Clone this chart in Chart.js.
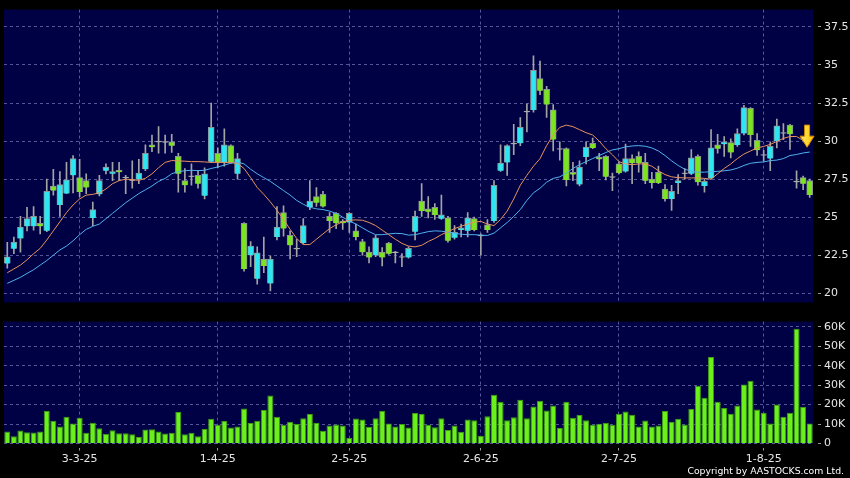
<!DOCTYPE html>
<html>
<head>
<meta charset="utf-8">
<script src="https://cdn.jsdelivr.net/npm/chart.js@4/dist/chart.umd.min.js"></script>
<style>
  html, body { margin: 0; padding: 0; background: #000; }
  #wrap { position: relative; width: 850px; height: 478px; background: #000; overflow: hidden; }
  #priceCanvas { position: absolute; left: 0; top: 0; }
  #volCanvas { position: absolute; left: 0; top: 312px; }
  #copy { position: absolute; right: 6px; top: 465px; color: #fff; font: 9.3px "DejaVu Sans", sans-serif; line-height: 12px; }
</style>
</head>
<body>
<div id="wrap">
  <canvas id="priceCanvas" width="850" height="312"></canvas>
  <canvas id="volCanvas" width="850" height="166"></canvas>
  <div id="copy">Copyright by AASTOCKS.com Ltd.</div>
</div>
<script>
// ----------------------------------------------------------------------
// data, one entry per trading day
// ----------------------------------------------------------------------
const open = [21.95,22.93,23.6,24.4,24.4,24.6,24.1,27.05,25.8,26.55,27.75,27.6,27.4,24.95,26.5,28.05,27.85,28.1,27.57,27.4,
  27.5,28.15,29.75,29.93,29.9,29.95,29.0,27.4,27.65,27.75,26.4,28.65,29.2,28.6,29.7,27.85,24.6,22.5,20.95,22.25,
  20.65,23.7,25.3,23.8,22.9,23.3,25.65,26.35,26.5,25.05,25.25,24.75,24.65,24.1,23.4,22.7,22.5,22.7,23.3,22.65,
  22.35,22.35,24.05,26.05,25.55,25.65,24.9,24.95,23.65,24.15,24.1,24.9,23.75,24.5,24.75,28.05,28.6,29.8,29.85,31.9,
  32.05,34.1,33.4,32.05,29.45,29.5,27.95,27.15,28.95,29.85,28.95,29.0,27.6,28.5,28.0,28.85,29.0,28.6,27.5,27.95,
  26.85,26.2,27.25,27.85,27.85,29.0,27.05,27.55,29.75,29.8,29.9,29.75,30.5,32.15,30.05,29.05,28.85,30.0,30.5,31.05,
  27.3,27.6,27.4];
const high = [23.35,23.7,25.05,25.65,25.7,25.05,27.5,28.15,28.0,28.6,29.05,28.8,27.85,26.0,27.75,28.5,28.6,28.6,27.75,28.7,
  28.8,29.75,30.4,30.95,30.4,30.45,29.2,28.2,28.5,28.05,28.25,32.5,29.55,30.8,29.75,29.2,24.65,23.4,23.05,23.7,
  22.45,25.7,25.75,24.1,23.55,24.9,27.4,26.95,26.7,25.3,25.3,24.85,25.3,24.55,23.55,23.05,23.8,23.0,23.35,22.75,
  22.6,23.05,25.4,27.2,26.35,25.9,26.45,25.05,24.45,24.55,25.3,25.0,23.9,24.85,27.4,29.75,29.75,31.1,31.55,32.45,
  35.6,35.25,33.6,32.4,29.95,29.55,28.6,28.7,29.95,30.2,29.2,29.05,27.9,28.6,29.8,29.1,29.3,29.2,27.95,28.35,
  27.15,27.1,27.8,28.2,29.45,29.1,27.5,30.75,30.45,30.3,30.15,30.8,32.35,32.2,30.5,29.4,29.95,31.45,31.15,31.1,
  28.05,27.7,27.5];
const low = [21.65,22.6,22.7,24.1,24.15,23.9,24.05,26.45,25.05,26.55,26.6,26.35,26.55,24.45,26.4,27.85,27.4,27.4,26.55,26.9,
  27.2,28.05,29.3,29.2,29.2,29.25,26.65,26.65,27.1,26.9,26.2,28.6,28.25,28.35,28.55,27.5,21.45,21.75,20.6,21.35,
  20.15,23.5,23.75,22.25,22.4,23.25,25.5,25.7,25.65,24.0,24.25,24.2,24.0,23.5,22.5,22.0,22.4,21.8,22.55,22.0,
  21.75,22.3,23.5,25.05,24.95,24.85,24.85,23.35,23.55,23.7,23.7,24.1,22.5,24.0,24.65,28.0,27.75,29.1,29.7,30.6,
  31.9,33.05,31.55,29.35,28.75,27.05,27.4,27.05,28.5,29.5,28.05,27.45,26.75,27.85,27.95,27.2,27.95,27.2,26.9,27.2,
  26.05,25.45,26.55,27.5,27.8,27.1,26.65,27.5,29.2,29.0,28.9,29.65,30.4,29.65,29.05,28.7,28.05,29.55,30.1,29.45,
  26.9,26.8,26.3];
const close = [22.4,23.36,24.35,24.9,25.05,24.4,26.7,26.75,27.15,27.45,28.85,26.65,26.95,25.5,27.4,28.3,28.0,27.95,27.57,27.4,
  27.9,29.2,29.6,29.93,29.9,29.7,27.85,27.1,27.65,27.2,27.85,30.9,28.6,29.75,28.6,28.85,21.6,23.1,22.65,21.8,
  22.25,24.35,24.25,23.15,22.9,24.45,26.05,25.95,25.7,24.75,24.6,24.6,25.25,23.7,22.7,22.35,23.65,22.35,22.6,22.65,
  22.35,22.95,25.05,25.4,25.35,25.15,25.15,23.45,24.0,24.3,24.95,24.15,23.75,24.15,27.1,28.55,29.7,29.8,30.9,31.9,
  34.65,33.3,32.4,30.1,29.45,27.45,27.8,28.3,29.6,29.55,28.8,27.65,27.6,27.9,28.85,28.55,28.55,27.4,27.25,27.25,
  26.2,26.7,27.4,27.85,28.9,27.3,27.35,29.55,29.5,29.95,29.25,30.5,32.2,30.4,29.4,29.05,29.65,31.0,30.5,30.45,
  27.3,27.2,26.45];

// moving averages as drawn (orange = short, blue = long)
const maShort = [21.35,21.6,21.85,22.2,22.6,22.95,23.5,24.1,24.7,25.3,25.8,26.2,26.45,26.5,26.6,26.85,27.2,27.4,27.5,27.47,
  27.42,27.55,27.85,28.25,28.6,28.72,28.7,28.68,28.65,28.65,28.63,28.6,28.6,28.6,28.58,28.54,28.2,27.6,26.95,26.5,
  26.0,25.45,24.85,24.2,23.6,23.2,23.2,23.55,23.9,24.25,24.5,24.7,24.8,24.82,24.8,24.65,24.45,24.15,23.85,23.55,
  23.28,23.1,23.05,23.15,23.4,23.6,23.85,24.05,24.25,24.4,24.55,24.68,24.72,24.55,24.45,24.85,25.4,26.2,27.1,27.75,
  28.35,28.85,29.7,30.4,30.9,31.05,30.95,30.75,30.55,30.4,30.0,29.5,29.1,28.65,28.5,28.45,28.5,28.5,28.35,28.05,
  27.8,27.65,27.6,27.58,27.58,27.58,27.55,27.5,27.85,28.2,28.5,28.85,29.15,29.35,29.55,29.65,29.78,29.97,30.18,30.3,
  30.3,30.05,29.8];
const maLong = [20.65,20.85,21.05,21.3,21.55,21.85,22.15,22.5,22.85,23.1,23.45,23.85,24.2,24.4,24.55,24.9,25.25,25.6,25.95,26.25,
  26.55,26.8,27.05,27.35,27.55,27.85,28.0,28.05,28.08,28.06,28.08,28.2,28.3,28.42,28.55,28.62,28.5,28.15,27.85,27.6,
  27.35,27.05,26.75,26.45,26.1,25.85,25.65,25.55,25.5,25.4,25.25,25.0,24.75,24.55,24.3,24.05,23.85,23.85,23.9,23.94,
  23.92,23.82,23.85,23.95,24.05,24.1,24.08,24.02,23.95,23.88,23.85,23.85,23.82,23.8,23.95,24.3,24.65,25.05,25.5,26.1,
  26.6,26.9,27.3,27.55,27.65,27.9,28.2,28.45,28.65,28.85,29.05,29.25,29.42,29.5,29.62,29.68,29.7,29.66,29.55,29.35,
  29.05,28.7,28.4,28.15,28.02,27.95,27.96,27.99,28.01,28.05,28.1,28.22,28.4,28.54,28.6,28.63,28.72,28.75,28.85,29.05,
  29.12,29.22,29.28];

// volume in shares
const volume = [6200,3700,6700,5800,5700,6200,16700,11700,8800,13800,10300,13200,5500,10700,7800,5000,6800,5300,5300,4700,
  3300,7200,7300,6200,5200,5500,16200,4800,5500,3700,7500,12700,9700,11500,8200,8700,18000,10500,11700,17200,
  24700,13700,9700,11200,10200,13000,15200,10500,6500,9200,9800,9300,2800,12800,12300,8500,13000,16700,10300,8700,
  10000,8200,15700,15200,9700,8300,13000,7000,9200,6000,12300,12000,3800,14000,25000,21500,12000,13500,22500,13000,
  19000,22000,17000,19500,8000,21500,13200,14700,12000,9700,10200,10500,9700,15300,16500,14800,8800,11800,8700,9200,
  16700,11200,12700,9800,17700,29700,23500,44500,21500,18200,15300,19500,30300,32300,17500,15800,10300,20000,13800,15800,
  59000,18700,10300];

const tickIdx = [11, 32, 52, 72, 93, 115];
const tickText = ['3-3-25', '1-4-25', '2-5-25', '2-6-25', '2-7-25', '1-8-25'];
const priceTicks = [20, 22.5, 25, 27.5, 30, 32.5, 35, 37.5];
const volTicks = [0, 10000, 20000, 30000, 40000, 50000, 60000];

// signal arrow: bar position, top and tip price
const ARROW_AT = 121.6, ARROW_TOP = 31.05, ARROW_TIP = 29.6;

// ----------------------------------------------------------------------
// style
// ----------------------------------------------------------------------
const PLOT_BG = '#000044';
const GRID = '#55559a';
const TEXT = '#e6e6e6';
const UP = '#2ee6f2', DOWN = '#7be41e', DOJI = '#b4b4b4', WICK = '#a4a4a4';
const FONT = { family: 'DejaVu Sans', size: 11 };

const days = open.map((_, i) => String(i));

const plotBg = {
  id: 'plotBg',
  beforeDraw(chart) {
    const { ctx, chartArea: a } = chart;
    ctx.save();
    ctx.fillStyle = PLOT_BG;
    ctx.fillRect(a.left, a.top, a.right - a.left, a.bottom - a.top);
    ctx.restore();
  }
};

const arrowMark = {
  id: 'arrowMark',
  afterDatasetsDraw(chart) {
    const { ctx, scales: { x, y } } = chart;
    const cx = x.getPixelForValue(ARROW_AT);
    const top = y.getPixelForValue(ARROW_TOP);
    const tip = y.getPixelForValue(ARROW_TIP);
    const headH = (tip - top) * 0.5, shaftW = 5, headW = 14;
    ctx.save();
    ctx.beginPath();
    ctx.moveTo(cx - shaftW / 2, top);
    ctx.lineTo(cx + shaftW / 2, top);
    ctx.lineTo(cx + shaftW / 2, tip - headH);
    ctx.lineTo(cx + headW / 2, tip - headH);
    ctx.lineTo(cx, tip);
    ctx.lineTo(cx - headW / 2, tip - headH);
    ctx.lineTo(cx - shaftW / 2, tip - headH);
    ctx.closePath();
    const g = ctx.createLinearGradient(cx - headW / 2, 0, cx + headW / 2, 0);
    g.addColorStop(0, '#ffe96a');
    g.addColorStop(1, '#ffc400');
    ctx.fillStyle = g;
    ctx.fill();
    ctx.strokeStyle = '#d88a00';
    ctx.lineWidth = 1;
    ctx.stroke();
    ctx.restore();
  }
};

function setTicks(list) {
  return axis => { axis.ticks = list.map(v => ({ value: v })); };
}

const bodyColors = open.map((o, i) => close[i] > o ? UP : (close[i] < o ? DOWN : DOJI));

// ----------------------------------------------------------------------
// price panel
// ----------------------------------------------------------------------
new Chart(document.getElementById('priceCanvas'), {
  type: 'bar',
  data: {
    labels: days,
    datasets: [
      { type: 'line', data: maShort, borderColor: '#e8935c', borderWidth: 1, pointRadius: 0, tension: 0, order: 0 },
      { type: 'line', data: maLong, borderColor: '#4fb2ee', borderWidth: 1, pointRadius: 0, tension: 0, order: 0 },
      { data: open.map((o, i) => [Math.min(o, close[i]), Math.max(o, close[i])]),
        backgroundColor: bodyColors, borderColor: '#8c9494', borderWidth: 1,
        barThickness: 6, minBarLength: 1, grouped: false, order: 1 },
      { data: low.map((l, i) => [l, high[i]]), backgroundColor: WICK,
        barThickness: 1, grouped: false, order: 2 }
    ]
  },
  options: {
    responsive: false,
    devicePixelRatio: 1,
    animation: false,
    layout: { padding: { left: 4, top: 6, bottom: 5, right: 0 } },
    plugins: { legend: { display: false }, tooltip: { enabled: false } },
    scales: {
      x: {
        offset: true,
        ticks: { display: false },
        grid: { color: GRID, offset: false, drawTicks: false },
        border: { display: false, dash: [3, 3] },
        afterBuildTicks: setTicks(tickIdx),
        afterFit: s => { s.height = 0; }
      },
      y: {
        position: 'right',
        min: 19.4, max: 38.64,
        afterBuildTicks: setTicks(priceTicks),
        afterFit: s => { s.width = 37; },
        ticks: { color: TEXT, font: FONT, padding: 3, callback: v => String(v) },
        grid: { color: GRID, tickColor: '#9a9a9a', tickLength: 8, tickBorderDash: [0, 5, 3, 50] },
        border: { display: false, dash: [3, 3] }
      }
    }
  },
  plugins: [plotBg, arrowMark]
});

// ----------------------------------------------------------------------
// volume panel
// ----------------------------------------------------------------------
new Chart(document.getElementById('volCanvas'), {
  type: 'bar',
  data: {
    labels: days,
    datasets: [
      { data: volume, backgroundColor: '#6cf01c', borderColor: '#3c9c12', borderWidth: 1,
        barPercentage: 0.92, categoryPercentage: 1 }
    ]
  },
  options: {
    responsive: false,
    devicePixelRatio: 1,
    animation: false,
    layout: { padding: { left: 4, top: 6, bottom: 0, right: 0 } },
    plugins: { legend: { display: false }, tooltip: { enabled: false } },
    scales: {
      x: {
        offset: true,
        afterBuildTicks: setTicks(tickIdx),
        afterFit: s => { s.height = 34.5; },
        ticks: {
          color: TEXT, font: FONT, padding: 2, autoSkip: false, maxRotation: 0,
          callback: v => tickText[tickIdx.indexOf(v)]
        },
        grid: { color: GRID, offset: false, tickColor: '#9a9a9a', tickLength: 7, tickBorderDash: [0, 4, 3, 50] },
        border: { display: false, dash: [3, 3] }
      },
      y: {
        position: 'right',
        min: 0, max: 62650,
        afterBuildTicks: setTicks(volTicks),
        afterFit: s => { s.width = 37; },
        ticks: { color: TEXT, font: FONT, padding: 3, callback: v => v === 0 ? '0' : (v / 1000) + 'K' },
        grid: { color: GRID, tickColor: '#9a9a9a', tickLength: 8, tickBorderDash: [0, 5, 3, 50] },
        border: { display: false, dash: [3, 3] }
      }
    }
  },
  plugins: [plotBg]
});
</script>
</body>
</html>
